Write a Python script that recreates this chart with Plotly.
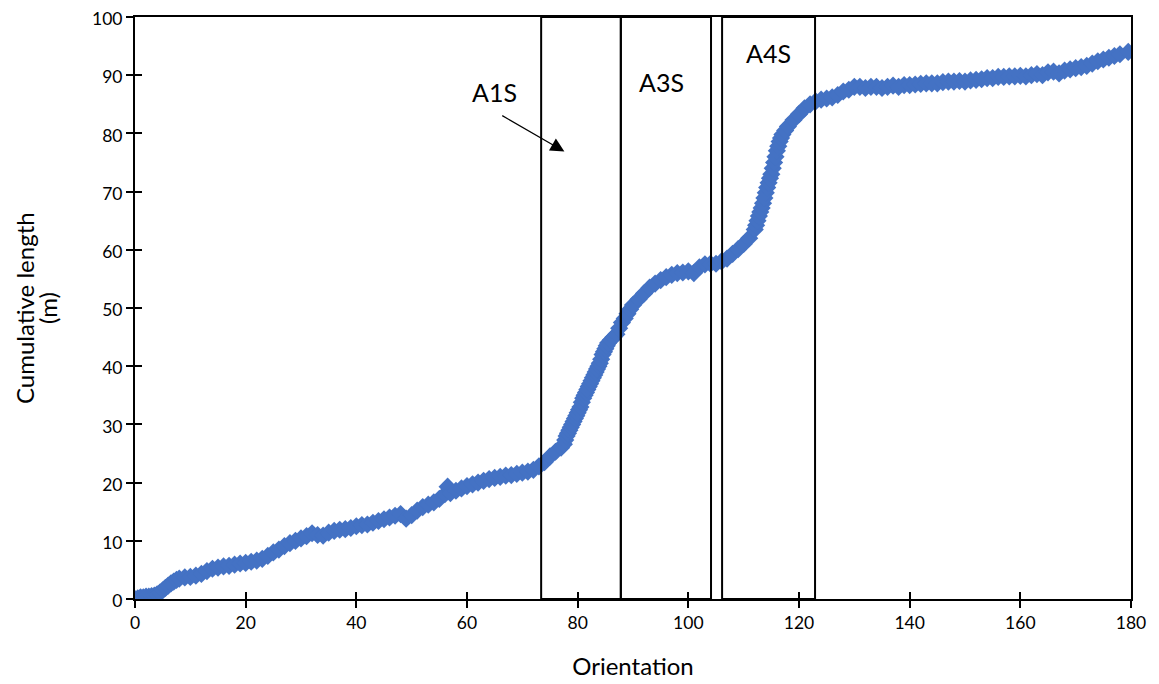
import plotly.graph_objects as go

orientation = [0, 0.5, 1, 1.5, 2, 2.5, 3, 3.5, 4, 4.5, 5, 5.5, 6, 6.5, 7, 7.5, 8, 9, 10, 11,
               12, 13, 14, 15, 16, 17, 18, 19, 20, 21, 22, 23, 24, 25, 26, 27, 28, 29, 30, 31,
               32, 33, 34, 35, 36, 37, 38, 39, 40, 41, 42, 43, 44, 45, 46, 47, 48, 49, 50, 51,
               52, 53, 54, 55, 56, 56.5, 57, 58, 59, 60, 61, 62, 63, 64, 65, 66, 67, 68, 69, 70,
               71, 72, 73, 74, 75, 76,
               77, 77.5, 77.75, 78, 78.25, 78.5, 78.75, 79, 79.25, 79.5, 79.75, 80, 80.25, 80.5, 80.75,
               81, 81.25, 81.5, 81.75, 82, 82.25, 82.5, 82.75, 83, 83.25, 83.5, 83.75, 84, 84.25,
               84.5, 84.75, 85, 85.25, 85.5,
               86, 86.5, 87, 87.5, 88, 88.5, 89, 89.5, 90, 91, 92,
               93, 94, 95, 96, 97, 98, 99, 100, 101, 102, 103, 104, 105, 106, 107, 108, 109, 110,
               111, 112, 112.25, 112.5, 112.75, 113, 113.25, 113.5, 113.75, 114, 114.25, 114.5, 114.75,
               115, 115.25, 115.5, 115.75, 116, 116.25, 116.5, 116.75, 117, 117.5, 118,
               119, 120, 121, 122, 123, 124, 125, 126, 127, 128, 129, 130, 131, 132, 133, 134,
               135, 136, 137, 138, 139, 140, 141, 142, 143, 144, 145, 146, 147, 148, 149, 150,
               151, 152, 153, 154, 155, 156, 157, 158, 159, 160, 161, 162, 163, 164, 165, 166,
               167, 168, 169, 170, 171, 172, 173, 174, 175, 176, 177, 178, 179.5]

cumulative_length = [0, 0.1, 0.3, 0.3, 0.4, 0.4, 0.5, 0.6, 0.8, 1.1, 1.5, 1.9, 2.3, 2.7, 3.0, 3.3, 3.5, 3.7, 3.8, 4.0,
                     4.3, 4.8, 5.2, 5.4, 5.6, 5.7, 5.9, 6.1, 6.2, 6.4, 6.6, 6.9, 7.4, 8.0, 8.5, 9.1, 9.6, 10.0, 10.4, 10.8,
                     11.3, 11.0, 10.9, 11.4, 11.7, 11.9, 12.0, 12.2, 12.5, 12.7, 12.8, 13.1, 13.4, 13.7, 14.0, 14.3, 14.6, 13.8, 14.4, 15.2,
                     15.8, 16.2, 16.6, 17.2, 18.0, 19.3, 18.2, 18.6, 19.0, 19.4, 19.7, 20.0, 20.3, 20.6, 20.8, 21.0, 21.2, 21.3, 21.5, 21.7,
                     21.9, 22.2, 22.8, 23.5, 24.5, 25.3,
                     26.0, 26.6, 27.3, 28.0, 28.5, 29.0, 29.5, 30.0, 30.5, 31.0, 31.5, 32.0, 32.5, 33.0, 33.8,
                     34.5, 35.0, 35.5, 36.0, 36.5, 37.0, 37.5, 38.0, 38.5, 39.0, 39.5, 40.0, 40.5, 41.2,
                     42.0, 42.5, 43.0, 43.5, 44.0,
                     44.5, 45.0, 45.5, 46.5, 47.5, 48.2, 49.0, 49.8, 50.5, 51.5, 52.5,
                     53.5, 54.2, 54.8, 55.3, 55.7, 56.0, 56.1, 56.3, 56.0, 57.0, 57.5, 57.6, 57.6, 58.0, 58.5, 59.3, 60.1, 61.0,
                     62.0, 63.5, 64.2, 65.0, 65.8, 66.5, 67.2, 68.0, 68.9, 69.8, 70.7, 71.5, 72.3,
                     73.0, 74.0, 75.0, 76.0, 77.0, 77.8, 78.6, 79.2, 79.8, 80.5, 81.2,
                     82.3, 83.3, 84.3, 85.0, 85.5, 85.8, 86.0, 86.2, 86.6, 87.2, 87.5, 88.0, 88.0, 87.8, 88.0, 88.0,
                     87.8, 88.0, 88.2, 88.0, 88.3, 88.3, 88.4, 88.5, 88.6, 88.6, 88.6, 88.8, 88.9, 88.9, 89.0, 88.9,
                     89.1, 89.2, 89.3, 89.5, 89.5, 89.7, 89.7, 89.8, 89.8, 89.9, 89.8, 90.0, 90.2, 90.0, 90.5, 90.6,
                     90.3, 90.8, 91.0, 91.2, 91.4, 91.6, 92.0, 92.4, 92.7, 93.0, 93.3, 93.6, 94.0]

zone_names = ["A1S", "A3S", "A4S"]
zone_start = [73.4, 87.8, 106.1]
zone_end = [87.8, 104.1, 122.9]
label_x = [64.9, 95.1, 114.4]
label_y = [87.1, 88.8, 93.8]

x_ticks = list(range(0, 181, 20))
y_ticks = list(range(0, 101, 10))

y_title_lines = ["Cumulative length", "(m)"]
y_title_shift = [-111, -88]

FONT = "Lato, Carlito, Calibri, sans-serif"

fig = go.Figure()
fig.add_trace(go.Scatter(
    x=orientation, y=cumulative_length, mode="markers",
    marker=dict(symbol="diamond", size=14, color="#4472C4", line=dict(width=0)),
    showlegend=False, hoverinfo="x+y"))

for name, x0, x1 in zip(zone_names, zone_start, zone_end):
    fig.add_shape(type="rect", xref="x", yref="y", x0=x0, x1=x1, y0=0, y1=100,
                  line=dict(color="black", width=2), fillcolor="rgba(0,0,0,0)")

for name, lx, ly in zip(zone_names, label_x, label_y):
    fig.add_annotation(x=lx, y=ly, xref="x", yref="y", text=name, showarrow=False,
                       font=dict(size=25, color="black", family=FONT))

fig.add_annotation(x=77.6, y=76.9, ax=66.1, ay=83.2, xref="x", yref="y",
                   axref="x", ayref="y", text="", showarrow=True,
                   arrowhead=2, arrowsize=2.3, arrowwidth=1.2, arrowcolor="black")

for line, shift in zip(y_title_lines, y_title_shift):
    fig.add_annotation(x=0, y=0.5, xref="paper", yref="paper", text=line, textangle=-90,
                       xshift=shift, showarrow=False, xanchor="center", yanchor="middle",
                       font=dict(size=24, color="black", family=FONT))

axis_common = dict(showgrid=False, zeroline=False, showline=True, linecolor="black",
                   linewidth=2, ticks="outside", ticklen=7, tickwidth=1.5, tickcolor="black",
                   tickfont=dict(size=17.5, color="black", family=FONT), mirror=True,
                   automargin=False, ticklabeloverflow="allow")

fig.update_layout(
    width=1159, height=684,
    margin=dict(l=127, r=36, t=9, b=93),
    paper_bgcolor="white", plot_bgcolor="white",
    font=dict(family=FONT, color="black"),
    xaxis=dict(range=[0, 180], tickvals=x_ticks,
               title=dict(text="Orientation", font=dict(size=24, family=FONT), standoff=26),
               **axis_common),
    yaxis=dict(range=[0, 100], tickvals=y_ticks, ticklabelshift=2, **axis_common),
    xaxis2=dict(range=[0, 180], tickvals=x_ticks, overlaying="x", anchor="y", side="bottom",
                showticklabels=False, showgrid=False, zeroline=False, showline=False,
                ticks="inside", ticklen=7, tickwidth=1.5, tickcolor="black", automargin=False),
    yaxis2=dict(range=[0, 100], tickvals=y_ticks, overlaying="y", anchor="x", side="left",
                showticklabels=False, showgrid=False, zeroline=False, showline=False,
                ticks="inside", ticklen=7, tickwidth=1.5, tickcolor="black", automargin=False),
)
# invisible trace to activate the overlay axes used for crossing tick marks
fig.add_trace(go.Scatter(x=[0], y=[0], xaxis="x2", yaxis="y2", mode="markers",
                         marker=dict(opacity=0), showlegend=False, hoverinfo="skip"))

fig.write_html("out.html")
